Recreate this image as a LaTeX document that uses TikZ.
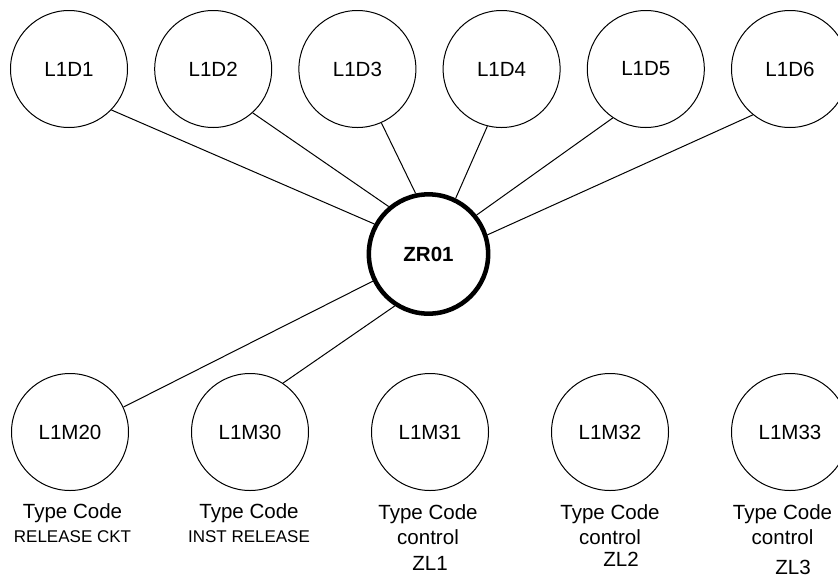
\documentclass[tikz,border=0pt]{standalone}
\usepackage{fontspec}
\setmainfont{Liberation Sans}
\usepackage{tikz}
\usetikzlibrary{positioning}
\tikzset{
  circnode/.style={draw=black,circle,line width=0.75pt,minimum size=87.75pt,
    inner sep=0pt,font=\fontsize{15.4}{18}\selectfont},
  hubnode/.style={draw=black,circle,line width=3.4pt,minimum size=89.5pt,
    inner sep=0pt,font=\fontsize{15.4}{18}\selectfont\bfseries},
  link/.style={line width=0.75pt,draw=black},
  typelbl/.style={anchor=base,inner sep=0pt,font=\fontsize{15.4}{18}\selectfont},
  sublbl/.style={anchor=base,inner sep=0pt,font=\fontsize{12.75}{15}\selectfont},
}
\begin{document}
\begin{tikzpicture}[x=0.75pt,y=-0.75pt]
  \useasboundingbox (0,0) rectangle (838,579);
  % top row
  \node[circnode] (d1) at (69,69) {L1D1};
  \node[circnode] (d2) at (213.2,69) {L1D2};
  \node[circnode] (d3) at (357.4,69) {L1D3};
  \node[circnode] (d4) at (501.6,69) {L1D4};
  \node[circnode] (d5) at (645.8,69) {L1D5};
  \node[circnode] (d6) at (790,69) {L1D6};
  % hub
  \node[hubnode] (zr01) at (428.5,254) {ZR01};
  % bottom row
  \node[circnode] (m20) at (70,432) {L1M20};
  \node[circnode] (m30) at (250,432) {L1M30};
  \node[circnode] (m31) at (430,432) {L1M31};
  \node[circnode] (m32) at (610,432) {L1M32};
  \node[circnode] (m33) at (790,432) {L1M33};
  % labels under the bottom row
  \node[typelbl] (t20) at (72.5,518) {Type Code};
  \node[sublbl] (s20) at (72.5,542) {RELEASE CKT};
  \node[typelbl] (t30) at (249,518) {Type Code};
  \node[sublbl] (s30) at (249,542) {INST RELEASE};
  \node[typelbl] (t31) at (428,519.5) {Type Code};
  \node[typelbl] (c31) at (428,544) {control};
  \node[typelbl] (z31) at (430,570) {ZL1};
  \node[typelbl] (t32) at (610,519.5) {Type Code};
  \node[typelbl] (c32) at (610,544) {control};
  \node[typelbl] (z32) at (621,566) {ZL2};
  \node[typelbl] (t33) at (782.5,519.5) {Type Code};
  \node[typelbl] (c33) at (782.5,544) {control};
  \node[typelbl] (z33) at (793,574) {ZL3};
  % connectors
  \draw[link] (d1.-44) -- (zr01.151);
  \draw[link] (d2.-48) -- (zr01.130);
  \draw[link] (d3.-66) -- (zr01.102);
  \draw[link] (d4.-104) -- (zr01.64);
  \draw[link] (d5.-124) -- (zr01.39);
  \draw[link] (d6.-129) -- (zr01.18);
  \draw[link] (zr01.206) -- (m20.25);
  \draw[link] (zr01.237) -- (m30.56);
\end{tikzpicture}
\end{document}
